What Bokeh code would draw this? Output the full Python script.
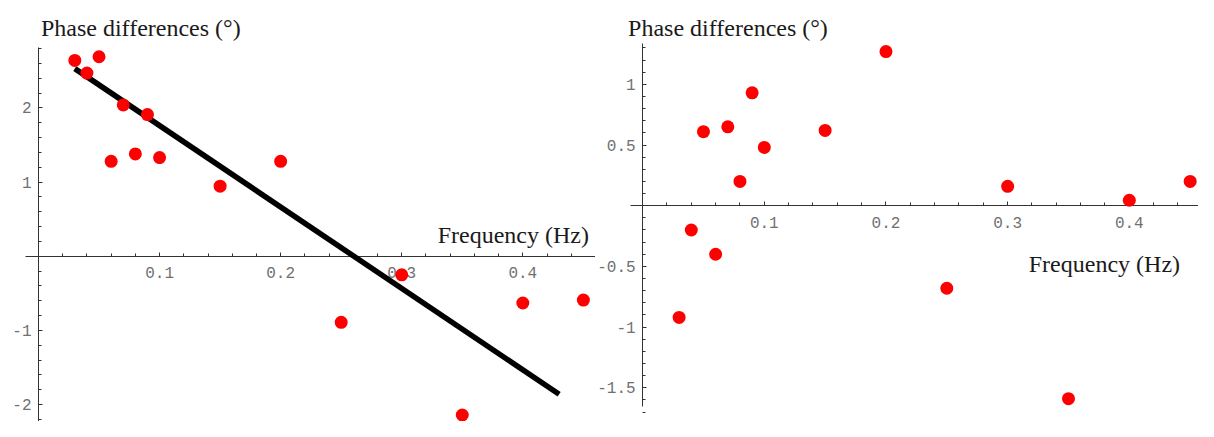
from bokeh.plotting import figure
from bokeh.layouts import row
from bokeh.models import FixedTicker, Label, ColumnDataSource
from bokeh.embed import file_html
from bokeh.resources import INLINE

# ---- data ----
freq = [0.03, 0.04, 0.05, 0.06, 0.07, 0.08, 0.09, 0.10, 0.15, 0.20, 0.25, 0.30, 0.35, 0.40, 0.45]
phase_left = [2.64, 2.47, 2.69, 1.28, 2.04, 1.38, 1.91, 1.33, 0.945, 1.28, -0.89, -0.25, -2.14, -0.63, -0.59]
phase_right = [-0.92, -0.20, 0.61, -0.40, 0.65, 0.20, 0.93, 0.48, 0.62, 1.27, -0.68, 0.16, -1.59, 0.045, 0.20]
fit_x = [0.03, 0.43]
fit_y = [2.53, -1.86]

x_major = [0.1, 0.2, 0.3, 0.4]
x_minor = [round(0.02 * i, 2) for i in range(1, 24)]
left_y_major = [-2, -1, 1, 2]
left_y_minor = [round(0.2 * i, 1) for i in range(-12, 15)]
right_y_major = [-1.5, -1, -0.5, 0.5, 1]
right_y_minor = [round(0.1 * i, 1) for i in range(-17, 14)]

x_labels = {0.1: "0.1", 0.2: "0.2", 0.3: "0.3", 0.4: "0.4"}
left_y_labels = {-2: "-2", -1: "-1", 1: "1", 2: "2"}
right_y_labels = {-1.5: "-1.5", -1: "-1", -0.5: "-0.5", 0.5: "0.5", 1: "1"}

W_TOT, H = 1198, 421
SX, SY = W_TOT / 1214.0, H / 437.0   # reference px -> figure px
W1 = 595
W2 = W_TOT - W1
TICK_FONT = "Liberation Mono"
TEXT_FONT = "Liberation Serif"


class Panel:
    """Maps reference-picture pixels to data coordinates for one panel."""
    def __init__(self, left_fig_px, x0, kx, y0, ky):
        self.off = left_fig_px / SX      # reference px at left edge of this figure
        self.x0, self.kx, self.y0, self.ky = x0, kx, y0, ky

    def dx(self, img_x):
        return (img_x - self.x0) / self.kx

    def dy(self, img_y):
        return (self.y0 - img_y) / self.ky


def style_axes(p, xb, yb, xmaj, xmin, xlab, ymaj, ymin, ylab):
    p.xaxis.fixed_location = 0
    p.yaxis.fixed_location = 0
    p.xaxis.ticker = FixedTicker(ticks=xmaj, minor_ticks=xmin)
    p.yaxis.ticker = FixedTicker(ticks=ymaj, minor_ticks=ymin)
    p.xaxis.major_label_overrides = xlab
    p.yaxis.major_label_overrides = ylab
    p.xaxis.bounds = xb
    p.yaxis.bounds = yb
    for ax in (p.xaxis, p.yaxis):
        ax.axis_line_color = "#333333"
        ax.axis_line_width = 1
        ax.major_tick_line_color = "#333333"
        ax.minor_tick_line_color = "#333333"
        ax.major_tick_in = 4
        ax.major_tick_out = 0
        ax.minor_tick_in = 3
        ax.minor_tick_out = 0
        ax.major_label_text_font = TICK_FONT
        ax.major_label_text_font_size = "16px"
        ax.major_label_text_color = "#707070"
        ax.level = "underlay"
    p.xaxis.major_label_standoff = 11
    p.yaxis.major_label_standoff = 7


def base_fig(w, xr, yr):
    p = figure(width=w, height=H, x_range=xr, y_range=yr,
               output_backend="svg", toolbar_location=None,
               min_border=0, min_border_left=0, min_border_right=0,
               min_border_top=0, min_border_bottom=0)
    p.outline_line_color = None
    p.xgrid.visible = False
    p.ygrid.visible = False
    p.background_fill_color = "white"
    p.border_fill_color = "white"
    return p


def text_label(pn, img_x, img_y, txt):
    return Label(x=pn.dx(img_x), y=pn.dy(img_y), text=txt,
                 text_font=TEXT_FONT, text_font_size="24px", text_color="#1a1a1a",
                 text_baseline="alphabetic", text_align="left")


# ---- left panel ----
L = Panel(0, 38.5, 1227.0, 265.5, 77.0)
p1 = base_fig(W1, (L.dx(0), L.dx(W1 / SX)), (L.dy(437), L.dy(0)))
style_axes(p1, (L.dx(25), L.dx(604)), (L.dy(437), L.dy(49)),
           x_major, x_minor, x_labels, left_y_major, left_y_minor, left_y_labels)

p1.line(fit_x, fit_y, line_color="black", line_width=5.5, line_cap="butt")
src1 = ColumnDataSource(dict(x=freq, y=phase_left))
p1.scatter("x", "y", source=src1, size=13, fill_color="#ff0000", line_color=None)

p1.add_layout(text_label(L, 41, 28.5, "Phase differences (°)"))
p1.add_layout(text_label(L, 443, 243, "Frequency (Hz)"))

# ---- right panel ----
R = Panel(W1, 650.7, 1233.0, 213.0, 126.0)
p2 = base_fig(W2, (R.dx(W1 / SX), R.dx(1214)), (R.dy(437), R.dy(0)))
style_axes(p2, (R.dx(638), R.dx(1214)), (R.dy(421.7), R.dy(45)),
           x_major, x_minor, x_labels, right_y_major, right_y_minor, right_y_labels)

src2 = ColumnDataSource(dict(x=freq, y=phase_right))
p2.scatter("x", "y", source=src2, size=13, fill_color="#ff0000", line_color=None)

p2.add_layout(text_label(R, 636, 28.5, "Phase differences (°)"))
p2.add_layout(text_label(R, 1042, 274, "Frequency (Hz)"))

layout = row(p1, p2, spacing=0)
open("out.html", "w").write(file_html(layout, INLINE))
